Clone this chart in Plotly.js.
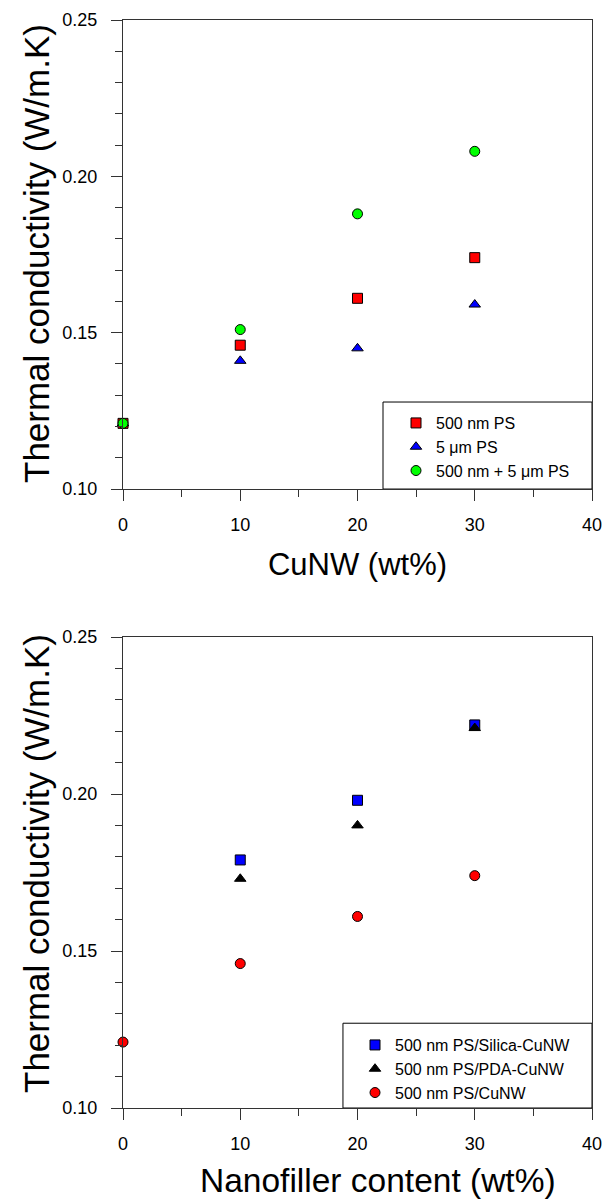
<!DOCTYPE html>
<html><head><meta charset="utf-8">
<script src="https://cdn.plot.ly/plotly-3.0.1.min.js"></script>
<style>html,body{margin:0;padding:0;background:#fff}</style>
</head><body>
<div id="chart" style="width:604px;height:1202px"></div>
<script>
// Top panel data
const xTop = [0, 10, 20, 30];
const ps500 = [0.121, 0.146, 0.161, 0.174];
const ps5um = [0.121, 0.141, 0.145, 0.159];
const psMix = [0.121, 0.151, 0.188, 0.208];
const topNames = ["500 nm PS", "5 \u03bcm PS", "500 nm + 5 \u03bcm PS"];
const topXTitle = "CuNW (wt%)";

// Bottom panel data
const xSilica = [10, 20, 30];
const silicaCuNW = [0.179, 0.198, 0.222];
const xPDA = [10, 20, 30];
const pdaCuNW = [0.173, 0.190, 0.221];
const xCuNW = [0, 10, 20, 30];
const plainCuNW = [0.121, 0.146, 0.161, 0.174];
const bottomNames = ["500 nm PS/Silica-CuNW", "500 nm PS/PDA-CuNW", "500 nm PS/CuNW"];
const bottomXTitle = "Nanofiller content (wt%)";
const yTitle = "Thermal conductivity (W/m.K)";

const FONT = "Arial, 'Liberation Sans', sans-serif";
const mk = (sym, col) => ({symbol: sym, size: 10, color: col, line: {color: '#000', width: 1}});

const traces = [
  {x: xTop, y: ps500, name: topNames[0], mode: 'markers', marker: mk('square', '#ff0000'), xaxis: 'x', yaxis: 'y', legend: 'legend', cliponaxis: false},
  {x: xTop, y: ps5um, name: topNames[1], mode: 'markers', marker: mk('triangle-up', '#0000ff'), xaxis: 'x', yaxis: 'y', legend: 'legend', cliponaxis: false},
  {x: xTop, y: psMix, name: topNames[2], mode: 'markers', marker: mk('circle', '#00ff00'), xaxis: 'x', yaxis: 'y', legend: 'legend', cliponaxis: false},
  {x: xSilica, y: silicaCuNW, name: bottomNames[0], mode: 'markers', marker: mk('square', '#0000ff'), xaxis: 'x2', yaxis: 'y2', legend: 'legend2', cliponaxis: false},
  {x: xPDA, y: pdaCuNW, name: bottomNames[1], mode: 'markers', marker: mk('triangle-up', '#000000'), xaxis: 'x2', yaxis: 'y2', legend: 'legend2', cliponaxis: false},
  {x: xCuNW, y: plainCuNW, name: bottomNames[2], mode: 'markers', marker: mk('circle', '#ff0000'), xaxis: 'x2', yaxis: 'y2', legend: 'legend2', cliponaxis: false}
];

const LINE = '#333';
const xAx = (title, anchor, size) => ({
  anchor: anchor, range: [0, 40], dtick: 10, tick0: 0,
  showline: true, mirror: true, linecolor: LINE, linewidth: 1,
  ticks: 'outside', ticklen: 11, tickwidth: 1, tickcolor: LINE,
  minor: {dtick: 5, ticks: 'outside', ticklen: 7, tickcolor: LINE, showgrid: false},
  showgrid: false, zeroline: false, ticklabelstandoff: 8,
  tickfont: {family: FONT, size: 18, color: '#000'},
  title: {text: title, font: {family: FONT, size: size, color: '#000'}, standoff: 19}
});
const yAx = (domain, anchor) => ({
  domain: domain, anchor: anchor, range: [0.10, 0.25], dtick: 0.05, tick0: 0.10,
  tickformat: '.2f',
  showline: true, mirror: true, linecolor: LINE, linewidth: 1,
  ticks: 'outside', ticklen: 11, tickwidth: 1, tickcolor: LINE,
  minor: {dtick: 0.01, ticks: 'outside', ticklen: 7, tickcolor: LINE, showgrid: false},
  showgrid: false, zeroline: false, ticklabelstandoff: 10,
  tickfont: {family: FONT, size: 18, color: '#000'}
});

const legendStyle = (x, y) => ({
  x: x, y: y, xref: 'paper', yref: 'paper', xanchor: 'left', yanchor: 'top',
  bgcolor: 'rgba(0,0,0,0)', borderwidth: 0,
  font: {family: FONT, size: 16, color: '#000'},
  tracegroupgap: 0, itemwidth: 30
});

const pyPaper = p => (1108 - p) / 1088;
const titleFont = size => ({family: FONT, size: size, color: '#000'});
const boxLine = {color: '#000', width: 1};
const layout = {
  width: 604, height: 1202,
  margin: {l: 123, r: 12, t: 20, b: 94},
  paper_bgcolor: '#fff', plot_bgcolor: '#fff',
  showlegend: true,
  xaxis: xAx(topXTitle, 'y', 31),
  yaxis: yAx([0.5689, 1], 'x'),
  xaxis2: xAx('', 'y2', 33.5),
  yaxis2: yAx([0, 0.4329], 'x2'),
  legend: legendStyle(0.5821, 0.6452),
  legend2: legendStyle(0.4947, 0.0735),
  annotations: [
    {text: bottomXTitle, xref: 'x2 domain', yref: 'paper', x: 0.5437, y: pyPaper(1180),
     xanchor: 'center', yanchor: 'middle', showarrow: false, font: titleFont(33.5)},
    {text: yTitle, xref: 'paper', yref: 'paper', x: (36 - 123) / 469, y: pyPaper(254), textangle: -90,
     xanchor: 'center', yanchor: 'middle', showarrow: false, font: titleFont(35)},
    {text: yTitle, xref: 'paper', yref: 'paper', x: (36 - 123) / 469, y: pyPaper(864), textangle: -90,
     xanchor: 'center', yanchor: 'middle', showarrow: false, font: titleFont(35)}
  ],
  shapes: [
    {type: 'rect', xref: 'x domain', yref: 'y domain', x0: 0.5544, x1: 1, y0: 0, y1: 0.1855, line: boxLine, fillcolor: '#fff', layer: 'below'},
    {type: 'rect', xref: 'x2 domain', yref: 'y2 domain', x0: 0.469, x1: 1, y0: 0, y1: 0.180, line: boxLine, fillcolor: '#fff', layer: 'below'}
  ]
};

Plotly.newPlot('chart', traces, layout, {displayModeBar: false, staticPlot: true});
</script>
</body></html>
